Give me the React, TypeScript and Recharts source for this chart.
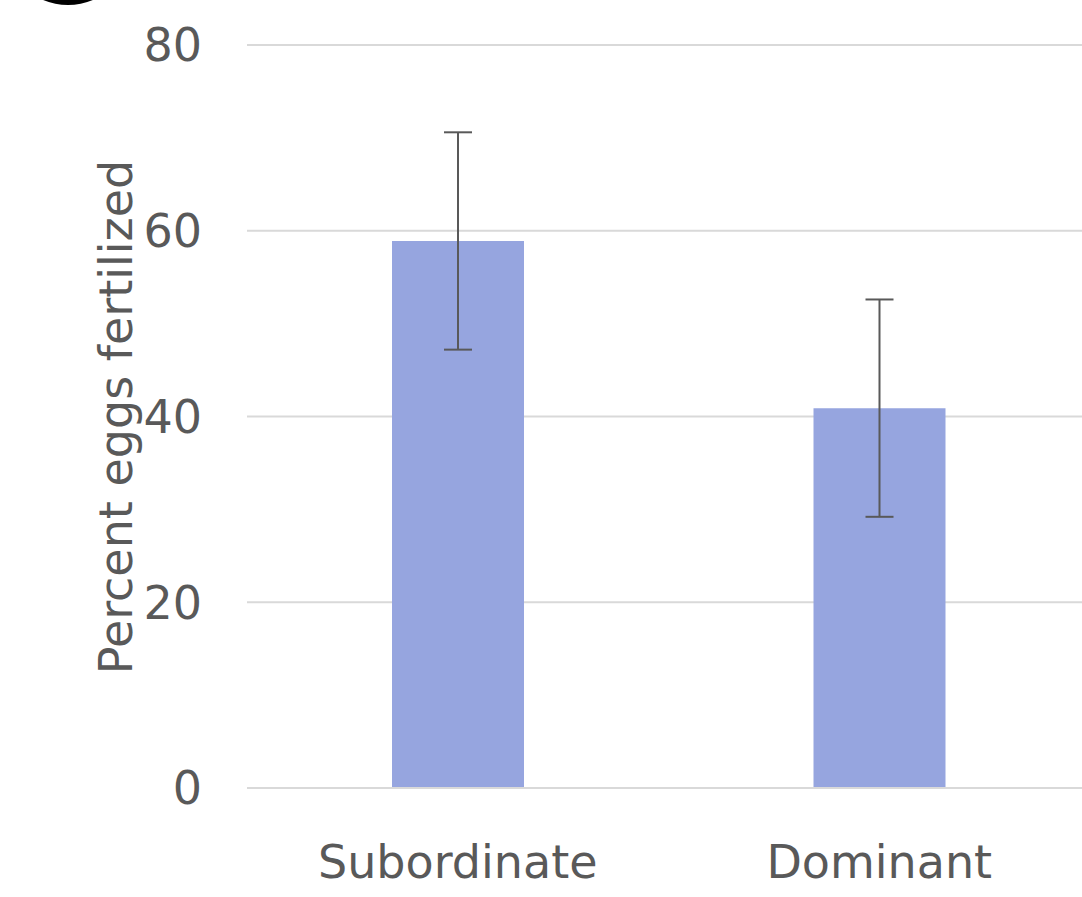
import React from 'react';
import { BarChart, Bar, XAxis, YAxis, CartesianGrid, ErrorBar, Label } from 'recharts';

const groups = ['Subordinate', 'Dominant'];
const fertilized = [58.9, 40.9];
const errors = [11.7, 11.7];
const yTicks = [0, 20, 40, 60, 80];

const data = groups.map((name, i) => ({
  name,
  value: fertilized[i],
  err: errors[i],
}));

const textColor = '#595959';
const gridColor = '#D9D9D9';
const font = '"DejaVu Sans", Verdana, sans-serif';

const App = () => {
  return (
    <div style={{ position: 'absolute', left: 0, top: 0, width: 1082, height: 897, background: '#fff', overflow: 'hidden' }}>
      <div
        style={{
          position: 'absolute',
          left: 3,
          top: -125,
          width: 130,
          height: 130,
          borderRadius: '50%',
          background: '#000',
        }}
      />
      <BarChart
        width={1090}
        height={897}
        data={data}
        margin={{ top: 45, right: 0, left: 0, bottom: 0 }}
        style={{ fontFamily: font }}
      >
        <CartesianGrid vertical={false} stroke={gridColor} strokeWidth={2} />
        <XAxis
          dataKey="name"
          height={109}
          axisLine={{ stroke: gridColor, strokeWidth: 2 }}
          tickLine={false}
          tickMargin={51}
          tick={{ fill: textColor, fontSize: 46, fontFamily: font }}
        />
        <YAxis
          width={247}
          domain={[0, 80]}
          ticks={yTicks}
          axisLine={false}
          tickLine={false}
          tickMargin={39}
          tick={{ fill: textColor, fontSize: 46, fontFamily: font }}
        >
          <Label
            content={() => (
              <text
                x={132}
                y={417}
                transform="rotate(-90 132 417)"
                textAnchor="middle"
                fill={textColor}
                fontSize={46}
                fontFamily={font}
              >
                Percent eggs fertilized
              </text>
            )}
          />
        </YAxis>
        <Bar dataKey="value" fill="#96A5DF" barSize={132} isAnimationActive={false}>
          <ErrorBar dataKey="err" width={14} stroke={textColor} strokeWidth={2} direction="y" />
        </Bar>
      </BarChart>
    </div>
  );
};

export default App;
